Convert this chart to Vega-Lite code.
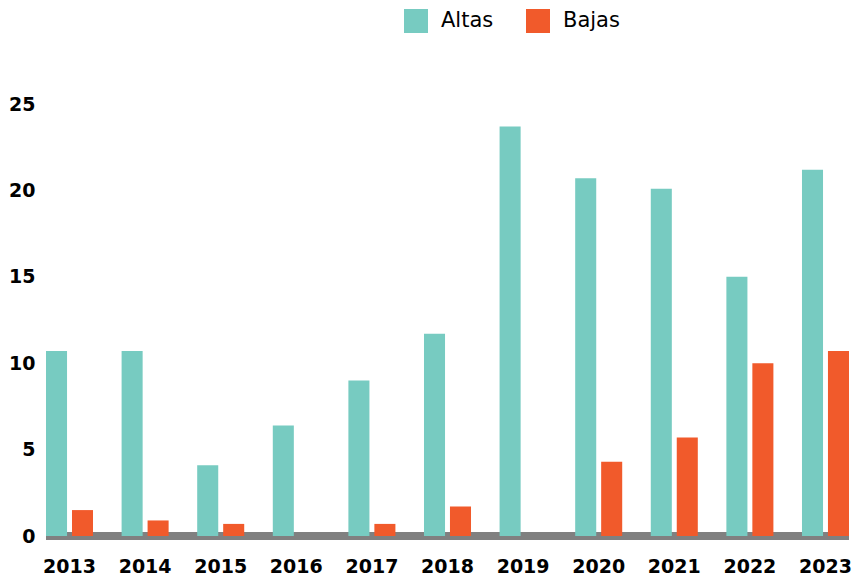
{
  "$schema": "https://vega.github.io/schema/vega-lite/v6.json",
  "width": 803,
  "height": 432,
  "autosize": "none",
  "padding": {"left": 46, "top": 104, "right": 4, "bottom": 40},
  "config": {"view": {"stroke": null}, "font": "DejaVu Sans"},
  "data": {
    "values": [
      {"year": "2013", "serie": "Altas", "valor": 10.7},
      {"year": "2013", "serie": "Bajas", "valor": 1.5},
      {"year": "2014", "serie": "Altas", "valor": 10.7},
      {"year": "2014", "serie": "Bajas", "valor": 0.9},
      {"year": "2015", "serie": "Altas", "valor": 4.1},
      {"year": "2015", "serie": "Bajas", "valor": 0.7},
      {"year": "2016", "serie": "Altas", "valor": 6.4},
      {"year": "2016", "serie": "Bajas", "valor": null},
      {"year": "2017", "serie": "Altas", "valor": 9.0},
      {"year": "2017", "serie": "Bajas", "valor": 0.7},
      {"year": "2018", "serie": "Altas", "valor": 11.7},
      {"year": "2018", "serie": "Bajas", "valor": 1.7},
      {"year": "2019", "serie": "Altas", "valor": 23.7},
      {"year": "2019", "serie": "Bajas", "valor": null},
      {"year": "2020", "serie": "Altas", "valor": 20.7},
      {"year": "2020", "serie": "Bajas", "valor": 4.3},
      {"year": "2021", "serie": "Altas", "valor": 20.1},
      {"year": "2021", "serie": "Bajas", "valor": 5.7},
      {"year": "2022", "serie": "Altas", "valor": 15.0},
      {"year": "2022", "serie": "Bajas", "valor": 10.0},
      {"year": "2023", "serie": "Altas", "valor": 21.2},
      {"year": "2023", "serie": "Bajas", "valor": 10.7}
    ]
  },
  "layer": [
    {
      "mark": {"type": "rule", "color": "#808080", "strokeWidth": 7},
      "encoding": {"y": {"datum": 0, "type": "quantitative"}}
    },
    {
      "mark": {"type": "bar", "y2Offset": 3},
      "encoding": {
        "x": {
          "field": "year",
          "type": "nominal",
          "scale": {"paddingInner": 0.378, "paddingOuter": 0},
          "axis": {
            "title": null,
            "domain": false,
            "ticks": false,
            "labelAngle": 0,
            "labelFontSize": 19,
            "labelFontWeight": "bold",
            "labelColor": "#000000",
            "labelPadding": 21
          }
        },
        "xOffset": {"field": "serie", "type": "nominal", "scale": {"paddingInner": 0.19}},
        "y": {
          "field": "valor",
          "type": "quantitative",
          "scale": {"domain": [0, 25], "nice": false},
          "axis": {
            "title": null,
            "values": [0, 5, 10, 15, 20, 25],
            "domain": false,
            "ticks": false,
            "labelFontSize": 19,
            "labelFontWeight": "bold",
            "labelColor": "#000000",
            "labelPadding": 11,
            "gridColor": "#999999",
            "gridWidth": 2
          }
        },
        "color": {
          "field": "serie",
          "type": "nominal",
          "scale": {"domain": ["Altas", "Bajas"], "range": ["#77CBC1", "#F15A2B"]},
          "legend": {
            "title": null,
            "orient": "none",
            "direction": "horizontal",
            "legendX": 358,
            "legendY": -95,
            "symbolType": "square",
            "symbolSize": 576,
            "symbolStrokeWidth": 0,
            "symbolOpacity": 1,
            "labelFontSize": 21,
            "labelColor": "#000000",
            "labelOffset": 13,
            "columnPadding": 32
          }
        }
      }
    }
  ]
}
